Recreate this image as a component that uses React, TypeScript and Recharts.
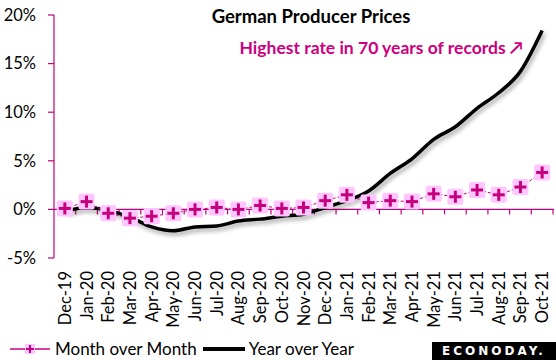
import { ComposedChart, Line, XAxis, YAxis, ReferenceLine } from "recharts";

const months = [
  "Dec-19", "Jan-20", "Feb-20", "Mar-20", "Apr-20", "May-20", "Jun-20", "Jul-20",
  "Aug-20", "Sep-20", "Oct-20", "Nov-20", "Dec-20", "Jan-21", "Feb-21", "Mar-21",
  "Apr-21", "May-21", "Jun-21", "Jul-21", "Aug-21", "Sep-21", "Oct-21",
];
const momValues = [
  0.1, 0.8, -0.4, -0.9, -0.7, -0.4, 0.0, 0.2, 0.0, 0.4, 0.1, 0.2,
  0.9, 1.5, 0.7, 0.9, 0.8, 1.6, 1.3, 2.0, 1.5, 2.3, 3.8,
];
const yoyValues = [
  -0.2, 0.2, -0.1, -0.8, -1.8, -2.2, -1.8, -1.7, -1.2, -1.0, -0.7, -0.5,
  0.2, 0.9, 1.9, 3.7, 5.2, 7.2, 8.5, 10.4, 12.0, 14.2, 18.4,
];
const yTicks = [-5, 0, 5, 10, 15, 20];

const MAGENTA = "#C4007C";
const PINK = "#FFC6FF";
const FONT = "Lato, 'Noto Sans', sans-serif";

const data = months.map((m, i) => ({ month: m, mom: momValues[i], yoy: yoyValues[i] }));

const PlusDot = (props: any) => {
  const { cx, cy } = props;
  if (cx == null || cy == null) return null;
  return (
    <g>
      <rect x={cx - 8} y={cy - 8} width={16} height={16} rx={2} fill={PINK} />
      <line x1={cx - 6} x2={cx + 6} y1={cy} y2={cy} stroke={MAGENTA} strokeWidth={3} />
      <line x1={cx} x2={cx} y1={cy - 6} y2={cy + 6} stroke={MAGENTA} strokeWidth={3} />
    </g>
  );
};

const MonthTick = (props: any) => {
  const { x, y, payload } = props;
  return (
    <text
      x={x}
      y={y}
      transform={`rotate(-90, ${x}, ${y})`}
      textAnchor="end"
      dominantBaseline="central"
      fontSize={16.5}
      fontFamily={FONT}
      fill="#000"
    >
      {payload.value}
    </text>
  );
};

// zero line with tick marks between the categories
const ZeroAxis = (props: any) => {
  const { x1, x2, y1 } = props;
  if (x1 == null) return null;
  const step = (x2 - x1) / months.length;
  return (
    <g>
      <line x1={x1 - 1} x2={x2 + 1} y1={y1} y2={y1} stroke={MAGENTA} strokeWidth={1.2} />
      {months.map((_, i) => (
        <line
          key={i}
          x1={x1 + step * (i + 1)}
          x2={x1 + step * (i + 1)}
          y1={y1}
          y2={y1 + 5}
          stroke={MAGENTA}
          strokeWidth={1.2}
        />
      ))}
    </g>
  );
};

export default function App() {
  return (
    <div style={{ position: "absolute", left: 0, top: 0, width: 556, height: 360, background: "#fff", fontFamily: FONT, overflow: "hidden" }}>
      <ComposedChart width={556} height={340} data={data} margin={{ top: 15, right: 3, bottom: 0, left: 0 }}>
        <defs>
          <filter id="shadow" x="-10%" y="-10%" width="130%" height="130%">
            <feDropShadow dx={2} dy={3} stdDeviation={2} floodColor="#000" floodOpacity={0.35} />
          </filter>
        </defs>
        <XAxis
          dataKey="month"
          scale="band"
          interval={0}
          axisLine={false}
          tickLine={false}
          tickSize={0}
          tickMargin={13}
          height={82}
          tick={<MonthTick />}
        />
        <YAxis
          domain={[-5, 20]}
          ticks={yTicks}
          width={54}
          axisLine={{ stroke: MAGENTA, strokeWidth: 1.2 }}
          tickLine={{ stroke: MAGENTA, strokeWidth: 1.2 }}
          tickSize={6}
          tickMargin={12}
          tickFormatter={(v: number) => `${v}%`}
          tick={{ fill: "#000", fontSize: 16.5, fontFamily: FONT }}
        />
        <ReferenceLine y={0} shape={<ZeroAxis />} />
        <Line
          dataKey="yoy"
          type="monotone"
          stroke="#000"
          strokeWidth={3.5}
          dot={false}
          style={{ filter: "url(#shadow)" }}
          isAnimationActive={false}
        />
        <Line
          dataKey="mom"
          type="linear"
          stroke={MAGENTA}
          strokeWidth={1}
          strokeDasharray="3 2"
          dot={<PlusDot />}
          isAnimationActive={false}
        />
      </ComposedChart>

      <div style={{ position: "absolute", top: 5, left: 195, width: 232, textAlign: "center", fontSize: 18.5, fontWeight: 700, color: "#000", whiteSpace: "nowrap" }}>
        German Producer Prices
      </div>
      <div style={{ position: "absolute", top: 37, right: 33, fontSize: 17.5, fontWeight: 700, color: "#CC0080", whiteSpace: "nowrap" }}>
        Highest rate in 70 years of records ↗
      </div>

      <div style={{ position: "absolute", top: 339, left: 10, height: 20, lineHeight: "20px", display: "flex", alignItems: "center", fontSize: 17, color: "#000", whiteSpace: "nowrap" }}>
        <svg width={42} height={14}>
          <line x1={0} x2={40} y1={7} y2={7} stroke={MAGENTA} strokeWidth={1.5} />
          <rect x={15} y={2} width={10} height={10} fill={PINK} />
          <line x1={16} x2={24} y1={7} y2={7} stroke={MAGENTA} strokeWidth={2} />
          <line x1={20} x2={20} y1={3} y2={11} stroke={MAGENTA} strokeWidth={2} />
        </svg>
        <span style={{ marginLeft: 3 }}>Month over Month</span>
        <svg width={44} height={14} style={{ marginLeft: 6 }}>
          <line x1={0} x2={42} y1={7} y2={7} stroke="#000" strokeWidth={4} />
        </svg>
        <span style={{ marginLeft: 2 }}>Year over Year</span>
      </div>

      <div style={{ position: "absolute", top: 342, left: 432, width: 124, height: 18, background: "#000", color: "#fff", fontFamily: "'DejaVu Sans', sans-serif", fontWeight: 700, fontSize: 12, letterSpacing: 3, display: "flex", alignItems: "center", justifyContent: "center" }}>
        ECONODAY.
      </div>
    </div>
  );
}
